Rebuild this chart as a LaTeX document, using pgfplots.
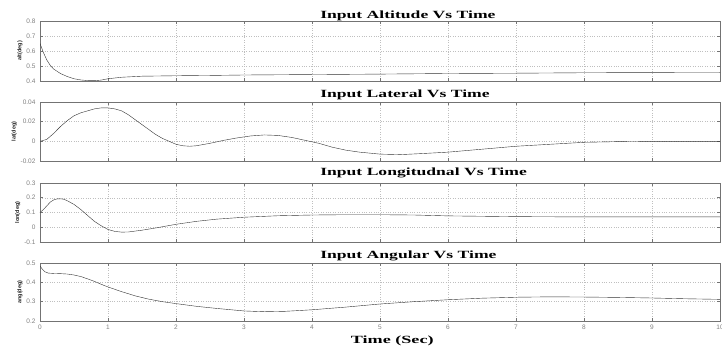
\documentclass[border=0pt]{standalone}
\usepackage{fontspec}
\setmainfont{Liberation Serif}
\setsansfont{Liberation Sans}
\usepackage{pgfplots}
\pgfplotsset{compat=1.18}
\definecolor{axc}{gray}{0.45}
\definecolor{lbl}{gray}{0.5}
\pgfplotsset{
  panel/.style={
    anchor=north west,
    width=680pt, scale only axis,
    xmin=0, xmax=10, xtick={0,...,10},
    xticklabels={},
    grid=major,
    major grid style={dotted, gray!50, line width=0.5pt},
    axis line style={axc, line width=0.9pt},
    tick style={axc, line width=0.6pt},
    tick align=inside, major tick length=3pt,
    /pgf/number format/assume math mode=true,
    scaled y ticks=false,
    yticklabel style={font=\sffamily\fontsize{6.5}{7}\selectfont, text=lbl, xshift=-1pt},
    xticklabel style={font=\sffamily\fontsize{6.5}{7}\selectfont, text=lbl},
    ylabel style={font=\sffamily\bfseries\fontsize{5.5}{6}\selectfont, text=black!85, yshift=-3pt},
    every axis title shift=0pt,
    title style={font=\bfseries\fontsize{11}{11}\selectfont, at={(rel axis cs:0.407,1)}, anchor=base west},
    cycle list={{black!80, line width=0.7pt, no markers, smooth}},
  }
}
\begin{document}
\begin{tikzpicture}[x=1pt,y=1pt]
\path[use as bounding box] (0,0) rectangle (722,-348);

\begin{axis}[panel, at={(40pt,-21pt)}, height=60pt,
  ymin=0.4, ymax=0.8, ytick={0.4,0.5,0.6,0.7,0.8},
  yticklabel={\pgfmathprintnumber[fixed,precision=1]{\tick}},
  ylabel={alt(deg)},
  title={\scalebox{1.6}[1]{Input Altitude Vs Time}}, title style={yshift=3pt}]
\addplot coordinates {(0,0.65)(0.05,0.59)(0.1,0.54)(0.15,0.505)(0.2,0.48)(0.3,0.45)(0.4,0.43)(0.5,0.415)(0.6,0.407)(0.7,0.403)(0.8,0.402)(0.9,0.406)(1.0,0.415)(1.2,0.425)(1.5,0.432)(2,0.435)(2.5,0.437)(3,0.44)(4,0.443)(5,0.446)(6,0.45)(7,0.452)(8,0.455)(9,0.456)(10,0.457)};
\end{axis}

\begin{axis}[panel, at={(40pt,-102pt)}, height=59pt,
  ymin=-0.02, ymax=0.04, ytick={-0.02,0,0.02,0.04},
  yticklabel={\pgfmathprintnumber[fixed,precision=2]{\tick}},
  ylabel={lat(deg)},
  title={\scalebox{1.6}[1]{Input Lateral Vs Time}}, title style={yshift=5pt}]
\addplot coordinates {(0,0)(0.1,0.002)(0.2,0.008)(0.3,0.015)(0.4,0.021)(0.5,0.026)(0.6,0.029)(0.7,0.031)(0.8,0.033)(0.9,0.034)(1.0,0.034)(1.1,0.033)(1.2,0.031)(1.3,0.027)(1.4,0.022)(1.5,0.017)(1.6,0.012)(1.7,0.007)(1.8,0.003)(1.9,0)(2.0,-0.003)(2.1,-0.0045)(2.2,-0.005)(2.3,-0.0045)(2.5,-0.002)(2.7,0.001)(2.9,0.0035)(3.1,0.0055)(3.3,0.0065)(3.5,0.006)(3.7,0.004)(3.9,0.001)(4.1,-0.002)(4.3,-0.006)(4.5,-0.009)(4.7,-0.011)(5.0,-0.013)(5.3,-0.0135)(5.6,-0.0125)(6.0,-0.011)(6.5,-0.008)(7,-0.005)(7.5,-0.003)(8,-0.001)(8.5,-0.0003)(9,0)(10,0)};
\end{axis}

\begin{axis}[panel, at={(40pt,-183pt)}, height=59pt,
  ymin=-0.1, ymax=0.3, ytick={-0.1,0,0.1,0.2,0.3},
  yticklabel={\pgfmathprintnumber[fixed,precision=1]{\tick}},
  ylabel={lon(deg)},
  title={\scalebox{1.6}[1]{Input Longitudnal Vs Time}}, title style={yshift=8pt}]
\addplot coordinates {(0,0.1)(0.05,0.12)(0.1,0.145)(0.15,0.17)(0.2,0.185)(0.25,0.192)(0.3,0.193)(0.35,0.19)(0.4,0.18)(0.5,0.155)(0.6,0.12)(0.7,0.08)(0.8,0.04)(0.9,0.01)(1.0,-0.015)(1.1,-0.028)(1.2,-0.033)(1.3,-0.032)(1.5,-0.02)(1.7,-0.005)(2.0,0.02)(2.3,0.04)(2.6,0.055)(3.0,0.068)(3.5,0.078)(4,0.083)(4.5,0.085)(5,0.085)(5.5,0.083)(6,0.077)(7,0.072)(8,0.07)(9,0.07)(10,0.07)};
\end{axis}

\begin{axis}[panel, at={(40pt,-263pt)}, height=58pt,
  ymin=0.2, ymax=0.5, ytick={0.2,0.3,0.4,0.5},
  yticklabel={\pgfmathprintnumber[fixed,precision=1]{\tick}},
  xticklabels={0,1,2,3,4,5,6,7,8,9,10},
  ylabel={ang(deg)},
  xlabel={\scalebox{1.65}[1]{Time (Sec)}},
  xlabel style={font=\bfseries\fontsize{11}{11}\selectfont, at={(rel axis cs:0.518,0)}, anchor=base, yshift=-22pt},
  title={\scalebox{1.6}[1]{Input Angular Vs Time}}, title style={yshift=5pt}]
\addplot coordinates {(0,0.485)(0.03,0.47)(0.07,0.455)(0.12,0.448)(0.2,0.446)(0.3,0.445)(0.4,0.443)(0.5,0.438)(0.6,0.43)(0.7,0.418)(0.8,0.405)(0.9,0.39)(1.0,0.376)(1.2,0.352)(1.4,0.33)(1.6,0.313)(1.8,0.3)(2.0,0.29)(2.3,0.276)(2.6,0.265)(3.0,0.252)(3.3,0.248)(3.6,0.25)(4,0.258)(4.5,0.272)(5,0.288)(5.5,0.3)(6,0.31)(6.5,0.318)(7,0.323)(7.5,0.325)(8,0.324)(8.5,0.322)(9,0.319)(9.5,0.315)(10,0.312)};
\end{axis}
\end{tikzpicture}
\end{document}
